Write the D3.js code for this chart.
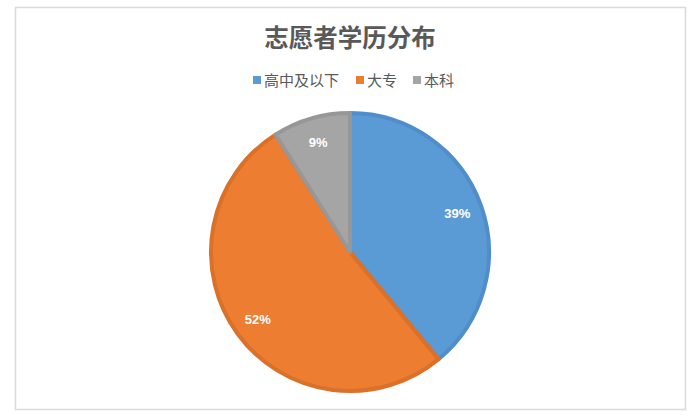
<!DOCTYPE html>
<html>
<head>
<meta charset="utf-8">
<script src="https://cdn.jsdelivr.net/npm/d3@7"></script>
<style>
  body { margin: 0; background: #fff; }
  svg { display: block; }
</style>
</head>
<body>
<svg id="chart"></svg>
<script>
const categories = ["高中及以下", "大专", "本科"];
const values = [39, 52, 9];
const labels = ["39%", "52%", "9%"];
const colors = ["#5B9BD5", "#ED7D31", "#A5A5A5"];
const strokes = ["#4F8DCB", "#DB7029", "#979797"];
const title = "志愿者学历分布";

const width = 700, height = 419;
const fontFamily = "'Noto Sans CJK SC', 'Noto Sans', sans-serif";

const svg = d3.select("#chart")
    .attr("width", width)
    .attr("height", height);

svg.append("rect")
    .attr("x", 15.5).attr("y", 7.5)
    .attr("width", 670).attr("height", 402)
    .attr("fill", "#fff")
    .attr("stroke", "#d9d9d9")
    .attr("stroke-width", 1.5);

svg.append("text")
    .attr("x", 350).attr("y", 47)
    .attr("text-anchor", "middle")
    .attr("font-family", fontFamily)
    .attr("font-size", 24.5)
    .attr("font-weight", "bold")
    .attr("fill", "#595959")
    .text(title);

// legend
const legendX = [253, 356, 413];
const legend = svg.append("g").selectAll("g")
    .data(categories)
    .join("g")
    .attr("transform", (d, i) => `translate(${legendX[i]}, 0)`);

legend.append("rect")
    .attr("x", 0).attr("y", 76)
    .attr("width", 8).attr("height", 8)
    .attr("fill", (d, i) => colors[i]);

legend.append("text")
    .attr("x", 11).attr("y", 86)
    .attr("font-family", fontFamily)
    .attr("font-size", 15)
    .attr("fill", "#595959")
    .text(d => d);

// pie
const cx = 350, cy = 252, r = 139;
const pie = d3.pie().sort(null).value(d => d);
const arc = d3.arc().innerRadius(0).outerRadius(r);
const labelArc = d3.arc().innerRadius(r * 0.82).outerRadius(r * 0.82);

const g = svg.append("g").attr("transform", `translate(${cx}, ${cy})`);
const arcs = pie(values);

g.selectAll("path")
    .data(arcs)
    .join("path")
    .attr("d", arc)
    .attr("fill", (d, i) => colors[i])
    .attr("stroke", (d, i) => strokes[i])
    .attr("stroke-width", 4)
    .attr("stroke-linejoin", "round");

g.selectAll("text")
    .data(arcs)
    .join("text")
    .attr("transform", d => `translate(${labelArc.centroid(d)})`)
    .attr("text-anchor", "middle")
    .attr("dy", "0.35em")
    .attr("font-family", "'Liberation Sans', Arial, sans-serif")
    .attr("font-size", 13)
    .attr("font-weight", "bold")
    .attr("fill", "#fff")
    .text((d, i) => labels[i]);
</script>
</body>
</html>
